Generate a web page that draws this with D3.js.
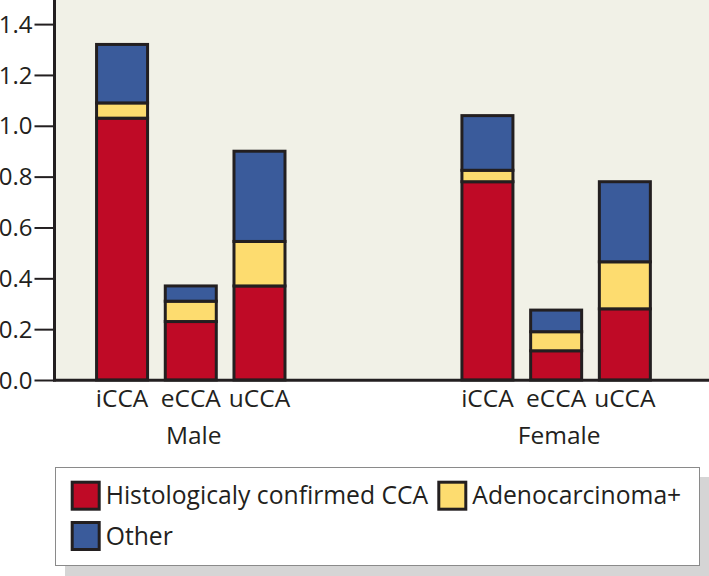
<!DOCTYPE html>
<html>
<head>
<meta charset="utf-8">
<script src="https://cdn.jsdelivr.net/npm/d3@7"></script>
<style>
  html, body { margin: 0; padding: 0; background: #ffffff; }
  svg { display: block; }
  text { font-family: "Open Sans", "Noto Sans", sans-serif; fill: #231f20; }
</style>
</head>
<body>
<svg id="chart" width="709" height="576"></svg>
<script>
// ---- data ----
const groups = ["Male", "Female"];
const subtypes = ["iCCA", "eCCA", "uCCA"];
const seriesNames = ["Histologicaly confirmed CCA", "Adenocarcinoma+", "Other"];
const histConfirmed = { Male: [1.03, 0.23, 0.37], Female: [0.78, 0.115, 0.28] };
const adenocarcinoma = { Male: [0.06, 0.08, 0.175], Female: [0.045, 0.075, 0.185] };
const other = { Male: [0.23, 0.06, 0.355], Female: [0.215, 0.085, 0.315] };
const yTicks = [0, 0.2, 0.4, 0.6, 0.8, 1.0, 1.2, 1.4];
const colors = ["#BF0A26", "#FDDC6F", "#3A5B9B"];

// ---- layout ----
const svg = d3.select("#chart");
const plot = { left: 55, right: 709, top: 0, bottom: 380 };
const ink = "#231f20";

const y = d3.scaleLinear().domain([0, 1.4]).range([380, 24.1]);
const xGroup = d3.scaleBand().domain(groups).range([plot.left, plot.right])
  .paddingInner(0.4).paddingOuter(0.095).align(0.377);
const xSub = d3.scaleBand().domain(subtypes).range([0, xGroup.bandwidth()])
  .paddingInner(0.2576).paddingOuter(0.224);

// background
svg.append("rect").attr("x", plot.left).attr("y", plot.top)
  .attr("width", plot.right - plot.left).attr("height", plot.bottom - plot.top)
  .attr("fill", "#F1F1E7");

// stacked data
const rows = [];
groups.forEach(g => subtypes.forEach((s, i) => {
  rows.push({ group: g, sub: s, vals: [histConfirmed[g][i], adenocarcinoma[g][i], other[g][i]] });
}));
const stack = d3.stack().keys([0, 1, 2]).value((d, k) => d.vals[k]);
const stacked = stack(rows);

// bars
stacked.forEach((layer, k) => {
  svg.append("g").selectAll("rect").data(layer).join("rect")
    .attr("x", d => xGroup(d.data.group) + xSub(d.data.sub))
    .attr("width", xSub.bandwidth())
    .attr("y", d => y(d[1]))
    .attr("height", d => y(d[0]) - y(d[1]))
    .attr("fill", colors[k])
    .attr("stroke", ink)
    .attr("stroke-width", 3);
});

// y axis
const yAxis = d3.axisLeft(y).tickValues(yTicks).tickFormat(d3.format(".1f"))
  .tickSize(19).tickPadding(2);
const gy = svg.append("g").attr("transform", `translate(${plot.left - 1.5},0)`).call(yAxis);
gy.select(".domain").remove();
gy.selectAll(".tick line").attr("stroke", ink).attr("stroke-width", 2);
gy.selectAll(".tick text").attr("font-size", 24).attr("font-family", null).attr("fill", ink).attr("dy", "0.34em");
svg.append("line").attr("x1", plot.left - 0.5).attr("x2", plot.left - 0.5)
  .attr("y1", 0).attr("y2", plot.bottom + 1.5).attr("stroke", ink).attr("stroke-width", 3);

// x axis line
svg.append("line").attr("x1", plot.left - 2).attr("x2", plot.right)
  .attr("y1", plot.bottom + 0.3).attr("y2", plot.bottom + 0.3).attr("stroke", ink).attr("stroke-width", 3);

// x labels per group
groups.forEach(g => {
  const gx = svg.append("g").attr("transform", `translate(${xGroup(g)},${plot.bottom})`)
    .call(d3.axisBottom(xSub).tickSize(0).tickPadding(9.5));
  gx.select(".domain").remove();
  gx.selectAll(".tick text").attr("font-size", 24.5).attr("font-family", null).attr("fill", ink).attr("dy", "0.71em");
  svg.append("text").attr("x", xGroup(g) + xGroup.bandwidth() / 2 + 3).attr("y", 443.5)
    .attr("text-anchor", "middle").attr("font-size", 24.5).text(g);
});

// legend
svg.append("rect").attr("x", 65).attr("y", 477).attr("width", 644).attr("height", 99).attr("fill", "#d5d5d5");
svg.append("rect").attr("x", 55.5).attr("y", 467.5).attr("width", 644).attr("height", 98)
  .attr("fill", "#ffffff").attr("stroke", "#8a8a8a").attr("stroke-width", 1);
const legendPos = [{ x: 72.2, y: 482.2 }, { x: 438.8, y: 482.2 }, { x: 72.2, y: 522.5 }];
seriesNames.forEach((name, k) => {
  const p = legendPos[k];
  svg.append("rect").attr("x", p.x).attr("y", p.y).attr("width", 27).attr("height", 27)
    .attr("fill", colors[k]).attr("stroke", ink).attr("stroke-width", 3);
  svg.append("text").attr("x", p.x + 33.5).attr("y", p.y + 22).attr("font-size", 24.7).text(name);
});
</script>
</body>
</html>
